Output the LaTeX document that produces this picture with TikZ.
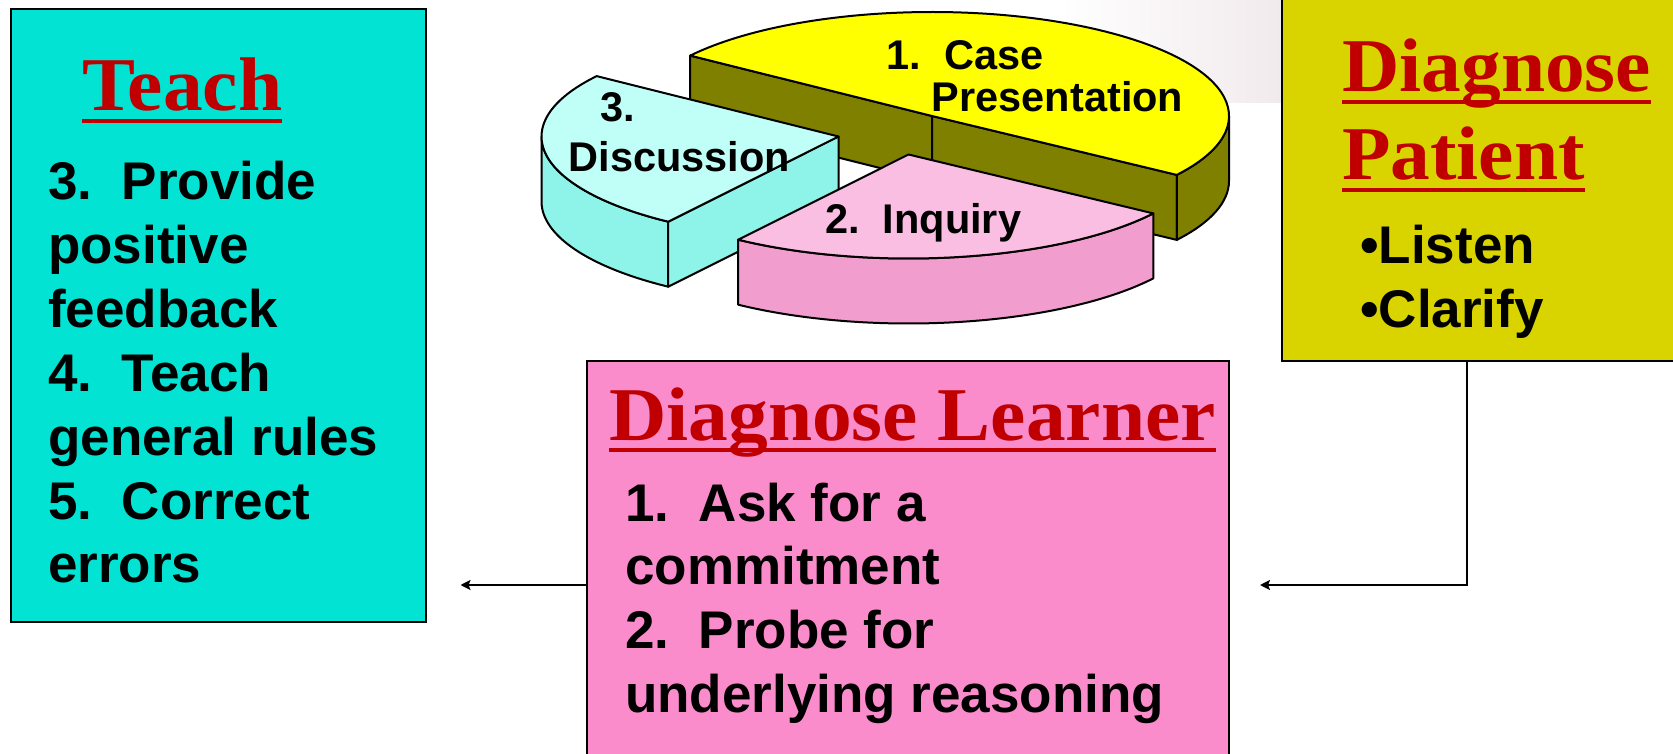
\documentclass[tikz,border=0pt]{standalone}
\usepackage{fontspec}
\setsansfont{Liberation Sans}
\newfontfamily\headfont[FakeStretch=1.045]{Liberation Serif}
\usetikzlibrary{calc}
\usetikzlibrary{arrows.meta}

\definecolor{teachcyan}{RGB}{3,227,212}
\definecolor{learnpink}{RGB}{250,140,204}
\definecolor{patientolive}{RGB}{217,212,0}
\definecolor{headred}{RGB}{192,0,0}
\definecolor{caseyellow}{RGB}{255,255,0}
\definecolor{casewall}{RGB}{128,128,0}
\definecolor{disctop}{RGB}{192,255,247}
\definecolor{discwall}{RGB}{142,243,232}
\definecolor{inqtop}{RGB}{250,190,226}
\definecolor{inqwall}{RGB}{241,157,206}
\definecolor{haze}{RGB}{241,234,237}

\begin{document}
\begin{tikzpicture}[x=1pt, y=1pt,
  box/.style={draw, line width=2.5pt, inner sep=0, outer sep=0, anchor=north west},
  head/.style={anchor=base west, inner sep=0, text=headred, font=\headfont\bfseries\fontsize{76}{80}\selectfont},
  headline/.style={draw=headred, line width=4.5pt},
  body/.style={anchor=base west, inner sep=0, font=\sffamily\bfseries\fontsize{53}{64}\selectfont},
  slicelabel/.style={anchor=base west, inner sep=0, font=\sffamily\bfseries\fontsize{41.5}{46}\selectfont},
  face/.style={draw, line width=2pt, line join=round, x radius=297, y radius=104},
  link/.style={line width=2pt, ->, >={Stealth[length=10pt, width=10pt, inset=2pt]}}]
\path[use as bounding box, fill=white] (0,0) rectangle (1673,-754);
\shade[left color=white, right color=haze] (1060,0) rectangle (1282,-103);

% the three boxes
\node[box, fill=teachcyan, minimum width=415, minimum height=613] (teach) at (11,-9) {};
\node[box, fill=learnpink, minimum width=642, minimum height=448] (learner) at (587,-361) {};
\node[box, fill=patientolive, minimum width=420, minimum height=372] (patient) at (1282,11) {};

% pie, slice centres
\coordinate (case) at (932,-116);
\coordinate (disc) at (838.5,-136.5);
\coordinate (inq) at (908.5,-154.5);

% 1. case presentation
\filldraw[face, fill=casewall] (case) -- ++(144.5:297 and 104) -- ++(0,-65) -- ([yshift=-65]case) -- cycle;
\filldraw[face, fill=casewall] (case) -- ++(-34.5:297 and 104) -- ++(0,-65) -- ([yshift=-65]case) -- cycle;
\filldraw[face, fill=casewall] ([shift={(-34.5:297 and 104)}]case) arc[start angle=-34.5, end angle=0]
  -- ++(0,-65) arc[start angle=0, end angle=-34.5] -- cycle;
\filldraw[face, fill=caseyellow] (case) -- ++(-34.5:297 and 104) arc[start angle=-34.5, end angle=144.5] -- cycle;

% 3. discussion
\filldraw[face, fill=discwall] ([shift={(180:297 and 104)}]disc) arc[start angle=180, end angle=235]
  -- ++(0,-65) arc[start angle=235, end angle=180] -- cycle;
\filldraw[face, fill=discwall] (disc) -- ++(235:297 and 104) -- ++(0,-65) -- ([yshift=-65]disc) -- cycle;
\filldraw[face, fill=disctop] (disc) -- ++(144.5:297 and 104) arc[start angle=144.5, end angle=235] -- cycle;

% 2. inquiry
\filldraw[face, fill=inqwall] ([shift={(235:297 and 104)}]inq) arc[start angle=235, end angle=325.5]
  -- ++(0,-65) arc[start angle=325.5, end angle=235] -- cycle;
\filldraw[face, fill=inqtop] (inq) -- ++(235:297 and 104) arc[start angle=235, end angle=325.5] -- cycle;

\node[slicelabel] (case-a) at (886.7,-70) {1.\ \ Case};
\node[slicelabel] (case-b) at (931.7,-111.7) {Presentation};
\node[slicelabel] (disc-a) at (600,-121.7) {3.};
\node[slicelabel] (disc-b) at (568.3,-171.7) {Discussion};
\node[slicelabel] (inq-a) at (825,-233.3) {2.\ \ Inquiry};

% headings
\node[head] (teach-head) at (82,-111) {Teach};
\node[head] (learner-head) at (609,-440) {Diagnose Learner};
\node[head] (patient-head1) at (1342,-92) {Diagnose};
\node[head] (patient-head2) at (1342,-180) {Patient};
\foreach \h in {teach-head,learner-head,patient-head1,patient-head2}
  \draw[headline] ([yshift=-10]\h.base west) -- ([yshift=-10]\h.base east);

% box texts
\foreach \t [count=\i from 0] in {3.\ \ Provide,positive,feedback,4.\ \ Teach,general rules,5.\ \ Correct,errors}
  \node[body] (teach-\i) at (48,-199.5-63.9*\i) {\t};
\foreach \t [count=\i from 0] in {1.\ \ Ask for a,commitment,2.\ \ Probe for,underlying reasoning}
  \node[body] (learner-\i) at (625,-521-63.7*\i) {\t};
\foreach \t [count=\i from 0] in {Listen,Clarify}
  \node[body] (patient-\i) at (1360,-263-64*\i) {\textbullet\t};

% connectors
\draw[link, shorten >=31pt] ([xshift=185.3]patient.south west) |- (learner.east);
\draw[link, shorten >=34.5pt] (learner.west) -- (learner.west -| teach.east);
\end{tikzpicture}
\end{document}
